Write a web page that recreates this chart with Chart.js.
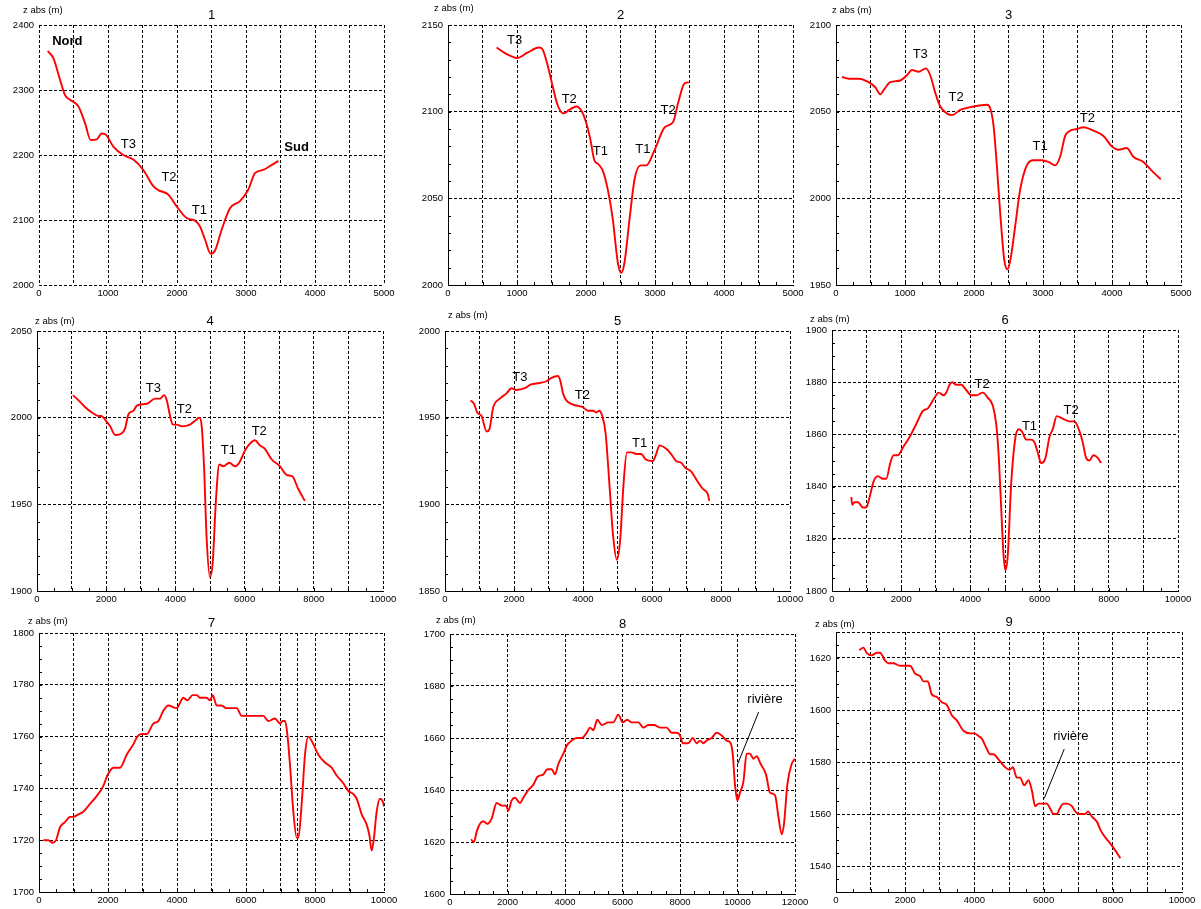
<!DOCTYPE html>
<html>
<head>
<meta charset="utf-8">
<script src="https://cdn.jsdelivr.net/npm/chart.js@4/dist/chart.umd.min.js"></script>
<style>
  html, body { margin: 0; padding: 0; background: #fff; }
  body { width: 1201px; height: 909px; position: relative; overflow: hidden; }
  canvas { position: absolute; }
</style>
</head>
<body>
<script>
// --- profile 1
const dist1 = [126, 208, 304, 377, 449, 570, 667, 749, 836, 908, 971, 1077, 1222, 1367, 1512, 1657, 1729, 1874, 1995, 2140, 2261, 2333, 2406, 2488, 2551, 2647, 2768, 2913, 3034, 3130, 3251, 3348, 3469];
const alt1 = [2360, 2349, 2316, 2292, 2285, 2275, 2249, 2223, 2224, 2233, 2231, 2213, 2200, 2193, 2177, 2152, 2146, 2139, 2121, 2103, 2099, 2090, 2070, 2048, 2053, 2085, 2118, 2129, 2147, 2172, 2177, 2183, 2191];
const notes1 = [
  { t: 'Nord', x: 411, y: 2374, bold: true },
  { t: 'T3', x: 1295, y: 2217 },
  { t: 'T2', x: 1884, y: 2165 },
  { t: 'T1', x: 2324, y: 2115 },
  { t: 'Sud', x: 3734, y: 2212, bold: true }
];

// --- profile 2
const dist2 = [704, 859, 1000, 1150, 1320, 1369, 1442, 1515, 1587, 1670, 1757, 1864, 1942, 2000, 2063, 2121, 2170, 2243, 2316, 2388, 2461, 2510, 2558, 2631, 2704, 2791, 2874, 2995, 3141, 3262, 3335, 3422, 3490];
const alt2 = [2137, 2133, 2131, 2134, 2137, 2136, 2127, 2115, 2104, 2099, 2101, 2103, 2100, 2094, 2084, 2072, 2070, 2066, 2055, 2038, 2013, 2007, 2013, 2038, 2061, 2069, 2069, 2078, 2091, 2094, 2105, 2116, 2117];
const notes2 = [
  { t: 'T3', x: 966, y: 2141 },
  { t: 'T2', x: 1757, y: 2107 },
  { t: 'T1', x: 2209, y: 2077 },
  { t: 'T1', x: 2825, y: 2078 },
  { t: 'T2', x: 3189, y: 2101 }
];

// --- profile 3
const dist3 = [87, 183, 328, 473, 570, 642, 700, 787, 931, 1028, 1100, 1197, 1303, 1366, 1438, 1511, 1607, 1680, 1800, 1993, 2186, 2235, 2283, 2331, 2379, 2437, 2486, 2534, 2597, 2669, 2765, 2862, 2983, 3079, 3176, 3248, 3321, 3393, 3489, 3586, 3731, 3876, 3996, 4093, 4213, 4310, 4455, 4575, 4706];
const alt3 = [2070, 2069, 2069, 2067, 2064, 2060, 2063, 2067, 2068, 2071, 2074, 2073, 2075, 2071, 2061, 2053, 2049, 2048, 2051, 2053, 2054, 2052, 2042, 2019, 1992, 1965, 1959, 1966, 1984, 2005, 2019, 2022, 2022, 2021, 2019, 2024, 2036, 2039, 2040, 2041, 2039, 2036, 2030, 2028, 2029, 2024, 2021, 2016, 2011];
const notes3 = [
  { t: 'T3', x: 1221, y: 2083 },
  { t: 'T2', x: 1742, y: 2058 },
  { t: 'T1', x: 2958, y: 2030 },
  { t: 'T2', x: 3644, y: 2046 }
];

// --- profile 4
const dist4 = [1038, 1202, 1394, 1587, 1779, 1856, 2000, 2115, 2260, 2452, 2548, 2644, 2788, 2885, 3173, 3413, 3558, 3673, 3750, 3846, 3923, 4038, 4183, 4423, 4615, 4692, 4760, 4827, 4904, 5000, 5077, 5173, 5269, 5385, 5558, 5721, 5846, 6010, 6154, 6298, 6442, 6587, 6779, 7019, 7212, 7385, 7548, 7740];
const alt4 = [2013, 2010, 2006, 2003, 2001, 2001, 1998, 1995, 1990, 1991, 1994, 2002, 2004, 2007, 2008, 2011, 2011, 2013, 2010, 2001, 1996, 1996, 1995, 1996, 1999, 2000, 1995, 1972, 1930, 1908, 1916, 1953, 1973, 1972, 1974, 1972, 1974, 1981, 1985, 1987, 1984, 1982, 1976, 1972, 1967, 1966, 1959, 1952];
const notes4 = [
  { t: 'T3', x: 3365, y: 2017 },
  { t: 'T2', x: 4260, y: 2005 },
  { t: 'T1', x: 5529, y: 1981 },
  { t: 'T2', x: 6423, y: 1992 }
];

// --- profile 5
const dist5 = [742, 839, 935, 1060, 1205, 1282, 1398, 1590, 1783, 1928, 2072, 2313, 2477, 2747, 2940, 3084, 3277, 3345, 3422, 3518, 3663, 3807, 4000, 4145, 4289, 4386, 4463, 4559, 4655, 4771, 4867, 4983, 5080, 5176, 5272, 5398, 5542, 5687, 5812, 6024, 6120, 6217, 6410, 6554, 6699, 6843, 6969, 7133, 7325, 7470, 7614, 7663];
const alt5 = [1960, 1958, 1953, 1951, 1942, 1943, 1956, 1961, 1964, 1967, 1966, 1967, 1969, 1970, 1971, 1973, 1974, 1971, 1964, 1960, 1958, 1957, 1956, 1954, 1954, 1953, 1954, 1951, 1941, 1910, 1883, 1868, 1880, 1912, 1930, 1930, 1929, 1929, 1926, 1925, 1929, 1934, 1932, 1929, 1925, 1924, 1921, 1919, 1913, 1909, 1906, 1902];
const notes5 = [
  { t: 'T3', x: 2169, y: 1973 },
  { t: 'T2', x: 3981, y: 1963 },
  { t: 'T1', x: 5639, y: 1935 }
];

// --- profile 6
const dist6 = [558, 587, 654, 750, 895, 991, 1088, 1203, 1328, 1472, 1569, 1684, 1780, 1906, 2050, 2243, 2435, 2628, 2772, 2916, 3089, 3224, 3301, 3397, 3474, 3590, 3734, 3879, 4023, 4167, 4360, 4504, 4648, 4745, 4822, 4889, 4957, 5014, 5082, 5178, 5303, 5399, 5495, 5611, 5755, 5851, 5948, 6044, 6169, 6285, 6381, 6497, 6670, 6862, 7007, 7132, 7247, 7344, 7440, 7555, 7680, 7777];
const alt6 = [1836, 1833, 1834, 1834, 1832, 1832, 1836, 1842, 1844, 1843, 1843, 1849, 1852, 1852, 1855, 1859, 1864, 1869, 1870, 1873, 1876, 1875, 1876, 1879, 1880, 1879, 1879, 1877, 1875, 1875, 1876, 1874, 1871, 1864, 1851, 1832, 1814, 1808, 1814, 1841, 1859, 1862, 1861, 1858, 1858, 1857, 1853, 1849, 1851, 1859, 1862, 1867, 1866, 1865, 1865, 1862, 1857, 1851, 1850, 1852, 1851, 1849];
const notes6 = [
  { t: 'T2', x: 4341, y: 1879 },
  { t: 'T1', x: 5707, y: 1863 },
  { t: 'T2', x: 6910, y: 1869 }
];

// --- profile 7
const dist7 = [126, 271, 396, 493, 609, 754, 899, 995, 1140, 1285, 1478, 1671, 1865, 1981, 2155, 2348, 2541, 2734, 2850, 2976, 3121, 3314, 3459, 3604, 3749, 3990, 4184, 4300, 4454, 4570, 4667, 4860, 4957, 5034, 5150, 5295, 5420, 5585, 5729, 5874, 6068, 6213, 6309, 6502, 6647, 6841, 6986, 7063, 7131, 7198, 7275, 7372, 7469, 7517, 7614, 7710, 7807, 7952, 8097, 8290, 8483, 8628, 8821, 8966, 9092, 9208, 9353, 9498, 9575, 9643, 9710, 9787, 9884, 9961, 10000];
const alt7 = [1720, 1720, 1719, 1720, 1725, 1727, 1729, 1729, 1730, 1731, 1734, 1737, 1741, 1745, 1748, 1748, 1753, 1757, 1760, 1761, 1761, 1765, 1766, 1770, 1772, 1771, 1775, 1774, 1776, 1776, 1775, 1775, 1774, 1776, 1772, 1772, 1771, 1771, 1771, 1768, 1768, 1768, 1768, 1768, 1766, 1767, 1765, 1766, 1766, 1761, 1749, 1731, 1721, 1721, 1734, 1753, 1760, 1757, 1753, 1750, 1748, 1745, 1742, 1739, 1738, 1736, 1730, 1726, 1722, 1716, 1721, 1731, 1736, 1735, 1733];
const notes7 = [];
const extraGrid7 = [7500];

// --- profile 8
const dist8 = [730, 835, 928, 1043, 1159, 1299, 1449, 1623, 1797, 1948, 2029, 2145, 2261, 2435, 2551, 2725, 2899, 3038, 3246, 3386, 3536, 3652, 3768, 3942, 4058, 4232, 4406, 4580, 4754, 4870, 4986, 5125, 5275, 5507, 5681, 5855, 6006, 6168, 6319, 6551, 6725, 6899, 7096, 7304, 7536, 7710, 7884, 8000, 8093, 8290, 8441, 8580, 8696, 8812, 8928, 9101, 9275, 9449, 9623, 9762, 9832, 9913, 9994, 10087, 10203, 10319, 10435, 10551, 10667, 10806, 10991, 11130, 11304, 11420, 11536, 11617, 11733, 11884, 12000];
const alt8 = [1621, 1620, 1624, 1627, 1628, 1627, 1629, 1635, 1634, 1634, 1632, 1636, 1637, 1635, 1637, 1640, 1642, 1645, 1646, 1648, 1648, 1646, 1650, 1654, 1657, 1659, 1660, 1660, 1662, 1664, 1663, 1667, 1665, 1666, 1666, 1669, 1666, 1667, 1666, 1666, 1664, 1665, 1665, 1664, 1664, 1662, 1662, 1661, 1658, 1658, 1660, 1658, 1659, 1658, 1659, 1660, 1662, 1661, 1659, 1658, 1654, 1642, 1636, 1639, 1643, 1654, 1654, 1652, 1653, 1650, 1646, 1639, 1638, 1630, 1623, 1627, 1642, 1650, 1652];
const notes8 = [{ t: 'rivière', x: 10957, y: 1675 }];
const pointer8 = [10736, 1670, 10006, 1650];

// --- profile 9
const dist9 = [675, 791, 887, 1032, 1176, 1273, 1418, 1514, 1659, 1852, 1996, 2141, 2285, 2430, 2527, 2652, 2768, 2912, 3057, 3201, 3346, 3491, 3684, 3877, 3992, 4118, 4214, 4359, 4455, 4552, 4696, 4889, 5014, 5111, 5227, 5323, 5439, 5564, 5661, 5757, 5853, 5950, 6095, 6191, 6287, 6384, 6461, 6577, 6673, 6818, 6914, 7011, 7136, 7204, 7281, 7397, 7541, 7638, 7782, 7907, 8071, 8216];
const alt9 = [1623, 1624, 1622, 1621, 1622, 1622, 1619, 1618, 1618, 1617, 1617, 1617, 1614, 1613, 1611, 1611, 1606, 1605, 1603, 1602, 1598, 1596, 1592, 1591, 1591, 1590, 1589, 1585, 1583, 1583, 1581, 1578, 1577, 1578, 1574, 1574, 1571, 1573, 1569, 1563, 1564, 1564, 1564, 1562, 1560, 1560, 1562, 1564, 1564, 1563, 1561, 1560, 1560, 1560, 1561, 1559, 1557, 1554, 1551, 1549, 1546, 1543];
const notes9 = [{ t: 'rivière', x: 6789, y: 1590 }];
const pointer9 = [6596, 1585, 6017, 1566];

// axis ranges: [min, max, grid step, label step, minor step]
const xAxis5k = [0, 5000, 500, 1000, 250];
const xAxis10k = [0, 10000, 1000, 2000, 500];
const xAxis12k = [0, 12000, 2000, 2000, 500];

const panels = [
  { title: '1', dist: dist1, alt: alt1, notes: notes1, xr: [0, 5000, 500, 1000, 0], yr: [2000, 2400, 100, 100, 0], box: [39, 25, 345, 260], zl: [-16, -15], solid: false },
  { title: '2', dist: dist2, alt: alt2, notes: notes2, xr: xAxis5k, yr: [2000, 2150, 50, 50, 10], box: [448, 25, 345, 260], zl: [-14, -17], solid: true },
  { title: '3', dist: dist3, alt: alt3, notes: notes3, xr: xAxis5k, yr: [1950, 2100, 50, 50, 10], box: [836, 25, 345, 260], zl: [-4, -15], solid: true },
  { title: '4', dist: dist4, alt: alt4, notes: notes4, xr: xAxis10k, yr: [1900, 2050, 50, 50, 10], box: [37, 331, 346, 260], zl: [-2, -10], solid: true },
  { title: '5', dist: dist5, alt: alt5, notes: notes5, xr: xAxis10k, yr: [1850, 2000, 50, 50, 10], box: [445, 331, 345, 260], zl: [3, -16], solid: true },
  { title: '6', dist: dist6, alt: alt6, notes: notes6, xr: xAxis10k, yr: [1800, 1900, 20, 20, 5], box: [832, 330, 346, 261], zl: [-22, -11], solid: true },
  { title: '7', dist: dist7, alt: alt7, notes: notes7, xr: xAxis10k, yr: [1700, 1800, 20, 20, 5], box: [39, 633, 345, 259], zl: [-11, -12], solid: true, extraX: extraGrid7 },
  { title: '8', dist: dist8, alt: alt8, notes: notes8, xr: xAxis12k, yr: [1600, 1700, 20, 20, 5], box: [450, 634, 345, 260], zl: [-14, -14], solid: true, pointer: pointer8 },
  { title: '9', dist: dist9, alt: alt9, notes: notes9, xr: xAxis10k, yr: [1530, 1630, 20, 20, 5], box: [836, 632, 346, 260], zl: [-21, -8], solid: true, pointer: pointer9 }
];

const FONT = '"Liberation Sans", Arial, sans-serif';
Chart.defaults.font.family = FONT;
Chart.defaults.font.size = 9.5;
Chart.defaults.color = '#000';

function tickValues(min, max, step, extra) {
  const vals = [min];
  for (let v = Math.ceil(min / step) * step; v < max; v += step) {
    if (v > min) vals.push(v);
  }
  vals.push(max);
  (extra || []).forEach(v => vals.push(v));
  return vals.sort((a, b) => a - b).map(v => ({ value: v }));
}

function axisOpts(r, solid, extra, isX) {
  return {
    type: 'linear',
    min: r[0],
    max: r[1],
    afterBuildTicks: s => { s.ticks = tickValues(r[0], r[1], r[2], extra); },
    afterFit: s => { if (isX) s.height = 18; else s.width = 36; },
    ticks: {
      autoSkip: false,
      maxRotation: 0,
      padding: isX ? 3 : 5,
      callback: v => (v % r[3] === 0 ? String(v) : '')
    },
    grid: { color: '#000', lineWidth: 1, drawTicks: false },
    border: { display: solid, color: '#000', width: 1, dash: [3, 2] }
  };
}

function panelPlugin(p) {
  return {
    id: 'panelDecor' + p.title,
    afterDraw(chart) {
      const { ctx, chartArea: a, scales: { x, y } } = chart;
      ctx.save();
      ctx.fillStyle = '#000';
      ctx.strokeStyle = '#000';
      ctx.lineWidth = 1;

      // title and axis caption
      ctx.textBaseline = 'middle';
      ctx.textAlign = 'center';
      ctx.font = '13px ' + FONT;
      ctx.fillText(p.title, (a.left + a.right) / 2, a.top - 10);
      ctx.textAlign = 'left';
      ctx.font = '9.5px ' + FONT;
      ctx.fillText('z abs (m)', a.left + p.zl[0], a.top + p.zl[1]);

      // small inner ticks along the solid axes
      ctx.beginPath();
      if (p.yr[4]) {
        for (let v = p.yr[0] + p.yr[4]; v < p.yr[1]; v += p.yr[4]) {
          const py = Math.round(y.getPixelForValue(v)) + 0.5;
          ctx.moveTo(a.left, py);
          ctx.lineTo(a.left + 3, py);
        }
      }
      if (p.xr[4]) {
        for (let v = p.xr[0] + p.xr[4]; v < p.xr[1]; v += p.xr[4]) {
          const px = Math.round(x.getPixelForValue(v)) + 0.5;
          ctx.moveTo(px, a.bottom);
          ctx.lineTo(px, a.bottom - 3);
        }
      }
      ctx.stroke();

      // pointer to the river
      if (p.pointer) {
        const [x1, y1, x2, y2] = p.pointer;
        ctx.beginPath();
        ctx.moveTo(x.getPixelForValue(x1), y.getPixelForValue(y1));
        ctx.lineTo(x.getPixelForValue(x2), y.getPixelForValue(y2));
        ctx.stroke();
      }

      // terrace / place labels
      ctx.textAlign = 'center';
      p.notes.forEach(n => {
        ctx.font = (n.bold ? 'bold ' : '') + '13px ' + FONT;
        ctx.fillText(n.t, x.getPixelForValue(n.x), y.getPixelForValue(n.y));
      });
      ctx.restore();
    }
  };
}

panels.forEach(p => {
  const [l, t, w, h] = p.box;
  const cv = document.createElement('canvas');
  cv.width = w + 36 + 18;
  cv.height = h + 25 + 18;
  cv.style.left = (l - 36) + 'px';
  cv.style.top = (t - 25) + 'px';
  document.body.appendChild(cv);

  const points = p.dist.map((d, i) => ({ x: d, y: p.alt[i] }));

  new Chart(cv.getContext('2d'), {
    type: 'line',
    data: {
      datasets: [{
        data: points,
        borderColor: '#ff0000',
        borderWidth: 1.9,
        pointRadius: 0,
        cubicInterpolationMode: 'monotone',
        fill: false
      }]
    },
    options: {
      responsive: false,
      animation: false,
      devicePixelRatio: 1,
      layout: { padding: { top: 25, right: 18, left: 0, bottom: 0 } },
      plugins: { legend: { display: false }, tooltip: { enabled: false }, title: { display: false } },
      scales: {
        x: axisOpts(p.xr, p.solid, p.extraX, true),
        y: axisOpts(p.yr, p.solid, null, false)
      }
    },
    plugins: [panelPlugin(p)]
  });
});
</script>
</body>
</html>
